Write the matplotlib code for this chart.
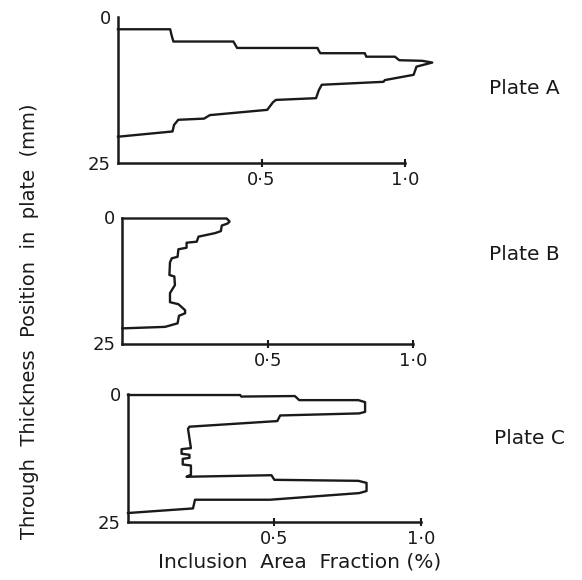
import matplotlib
matplotlib.use("Agg")
import matplotlib.pyplot as plt

plt.rcParams['font.family'] = ['DejaVu Sans']

# ---- data: (inclusion area fraction %, through-thickness depth mm) ----
frac_A = [0, 0.182, 0.186, 0.193, 0.402, 0.408, 0.415, 0.695, 0.700, 0.705, 0.860, 0.865,
          0.965, 0.980, 1.060, 1.095, 1.040, 1.030, 0.930, 0.925, 0.710, 0.700, 0.690,
          0.550, 0.540, 0.520, 0.320, 0.300, 0.210, 0.195, 0.190, 0]
depth_A = [2.1, 2.1, 3.0, 4.2, 4.2, 4.7, 5.3, 5.3, 5.8, 6.2, 6.2, 6.8,
           6.8, 7.4, 7.5, 7.8, 8.5, 9.9, 10.8, 11.1, 11.6, 12.5, 13.9,
           14.2, 14.6, 15.9, 16.8, 17.4, 17.6, 18.5, 19.6, 20.5]

frac_B = [0, 0.359, 0.369, 0.362, 0.342, 0.339, 0.319, 0.262, 0.256, 0.221, 0.221,
          0.193, 0.190, 0.170, 0.164, 0.162, 0.179, 0.181, 0.164, 0.164, 0.193,
          0.216, 0.216, 0.195, 0.190, 0.147, 0]
depth_B = [0.2, 0.2, 0.8, 1.2, 1.6, 2.7, 3.1, 3.8, 4.8, 5.0, 6.0,
           6.3, 7.8, 8.1, 8.9, 11.4, 11.7, 13.4, 15.0, 16.8, 17.2,
           18.4, 19.0, 19.5, 21.0, 21.7, 22.0]

frac_C = [0, 0.383, 0.387, 0.570, 0.585, 0.787, 0.810, 0.810, 0.790, 0.520, 0.510,
          0.210, 0.205, 0.215, 0.183, 0.183, 0.210, 0.210, 0.187, 0.187, 0.215,
          0.215, 0.200, 0.490, 0.500, 0.787, 0.815, 0.815, 0.790, 0.485, 0.229,
          0.222, 0]
depth_C = [0.2, 0.2, 0.5, 0.4, 1.2, 1.2, 1.6, 3.5, 3.8, 4.2, 5.3,
           6.4, 6.8, 10.6, 10.8, 11.7, 11.9, 12.5, 12.7, 13.8, 14.0,
           15.8, 16.2, 15.9, 16.8, 17.0, 17.4, 19.0, 19.4, 20.7, 20.7,
           22.4, 23.3]

plates = ["Plate A", "Plate B", "Plate C"]
x_ticks = [0.5, 1.0]
x_ticklabels = ["0·5", "1·0"]
y_ticks = [0, 25]
y_ticklabels = ["0", "25"]

W, H = 582, 580
fig = plt.figure(figsize=(W / 100, H / 100), dpi=100)

# axes geometry in pixels: (x of 0, px per unit fraction, y of 0 mm, y of 25 mm)
geom = [(118, 287, 17, 163), (122.3, 290.8, 217.5, 343.5), (128, 292.7, 394, 521.7)]
data = [(frac_A, depth_A), (frac_B, depth_B), (frac_C, depth_C)]
label_pos = [(489, 89), (489, 254), (494, 438)]

for (x0, unit, y0, y25), (fr, dp), name, (lx, ly) in zip(geom, data, plates, label_pos):
    ax = fig.add_axes([x0 / W, 1 - y25 / H, 1.2 * unit / W, (y25 - y0) / H])
    ax.set_xlim(0, 1.2)
    ax.set_ylim(25, 0)
    ax.plot(fr, dp, color='#1a1a1a', lw=1.7, solid_joinstyle='round', clip_on=False)
    for s in ['top', 'right']:
        ax.spines[s].set_visible(False)
    for s in ['left', 'bottom']:
        ax.spines[s].set_linewidth(1.8)
        ax.spines[s].set_color('#1a1a1a')
    ax.spines['bottom'].set_bounds(0, 1.0)
    ax.spines['left'].set_bounds(0, 25)
    ax.set_xticks(x_ticks)
    ax.set_xticklabels(x_ticklabels, fontsize=13, color='#1a1a1a')
    ax.set_yticks(y_ticks)
    ax.set_yticklabels(y_ticklabels, fontsize=13, color='#1a1a1a')
    ax.tick_params(axis='x', direction='inout', length=6, width=1.5, pad=3, color='#1a1a1a')
    ax.tick_params(axis='y', length=0, pad=5)
    ax.patch.set_alpha(0)
    fig.text(lx / W, 1 - ly / H, name, fontsize=14.5, ha='left', va='center', color='#1a1a1a')

fig.text(300 / W, 1 - 562 / H, "Inclusion  Area  Fraction (%)", fontsize=14.5,
         ha='center', va='center', color='#1a1a1a')
fig.text(30 / W, 1 - 321 / H, "Through  Thickness  Position  in  plate  (mm)", fontsize=14,
         ha='center', va='center', rotation=90, color='#1a1a1a')

fig.savefig("out.png", dpi=100, facecolor='white')
